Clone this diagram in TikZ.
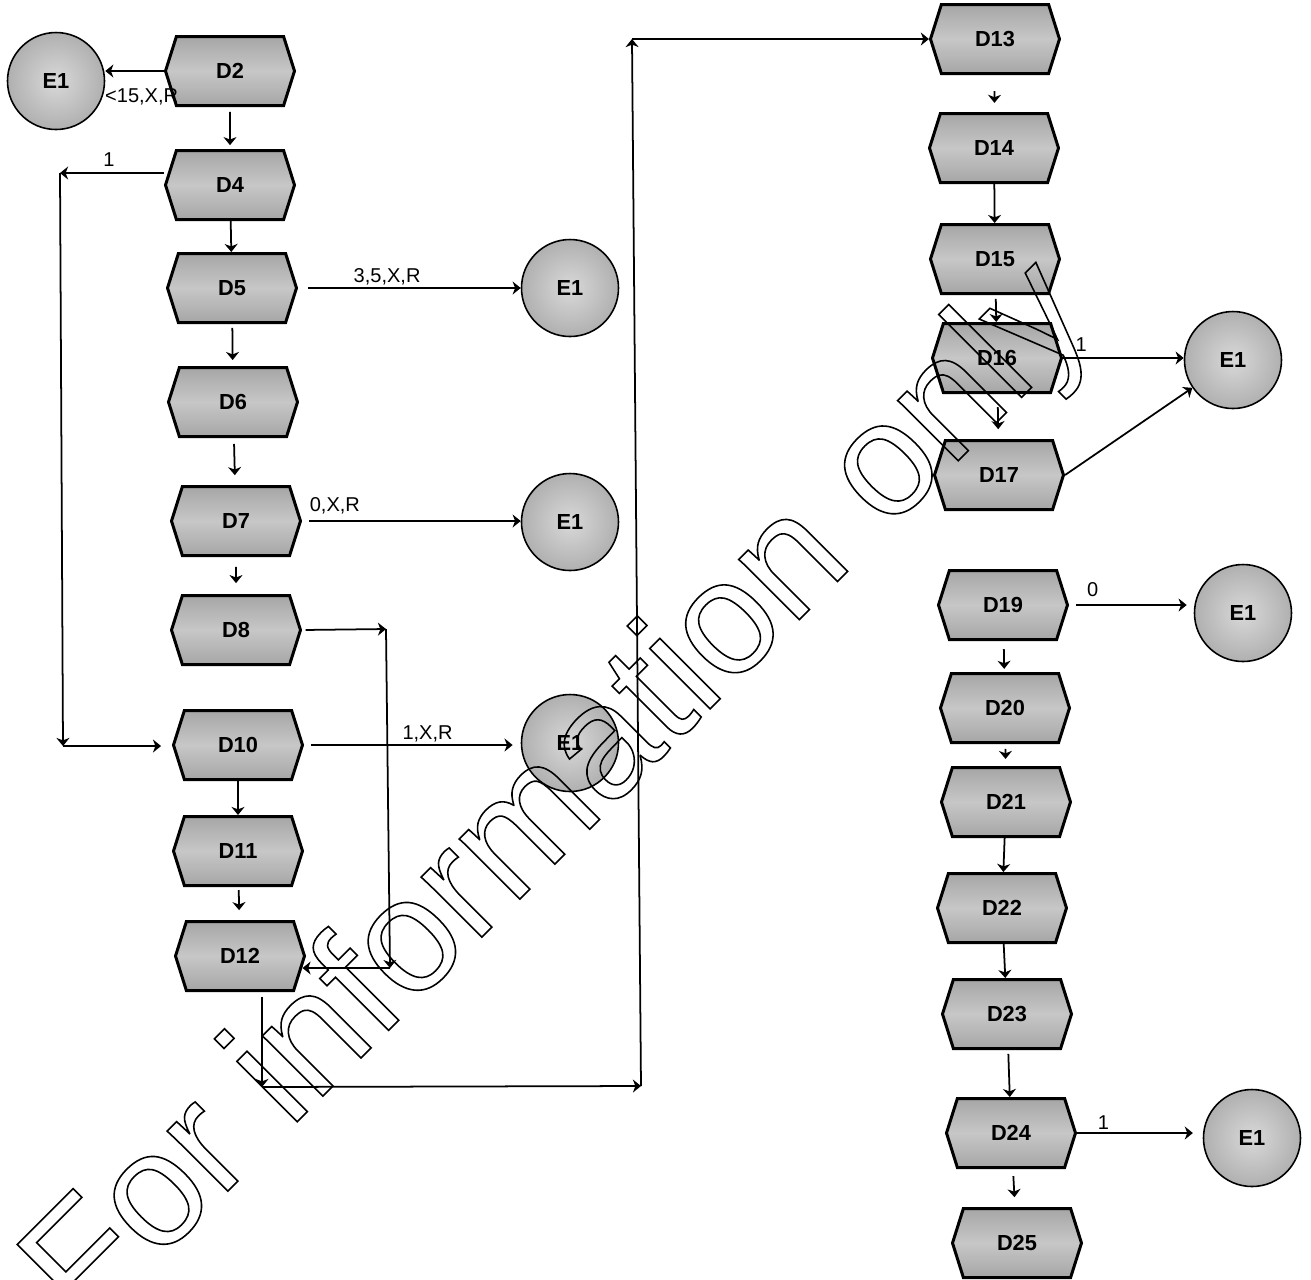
\documentclass[tikz,border=0pt]{standalone}
\usepackage{fontspec}
\setmainfont{Liberation Sans}
\usetikzlibrary{shapes.symbols,arrows.meta}

\begin{document}
\begin{tikzpicture}[x=.1mm,y=.1mm,
   hexa/.style={signal,signal to=east and west,signal pointer angle=145,draw,line width=.85pt,
     top color=gray!70,bottom color=gray!70,middle color=gray!44,
     minimum width=12.9mm,minimum height=6.9mm,inner sep=0pt,font=\fontsize{6.2}{7}\selectfont\bfseries},
   endc/.style={circle,draw,line width=.45pt,inner color=gray!30,outer color=gray!62,
     minimum size=9.7mm,inner sep=0pt,font=\fontsize{6.2}{7}\selectfont\bfseries},
   flow/.style={-{Stealth[length=2.3pt,width=3.7pt,inset=.7pt]},line width=.5pt},
   lab/.style={inner sep=.5pt,font=\fontsize{5.7}{6.5}\selectfont}]
\useasboundingbox (0,0) rectangle (1311,-1279);
       \node [endc] at (56,-81) (e1a) {E1};
          \node [hexa] at (230,-71) (d2) {D2};
             \node [hexa] at (230,-185) (d4) {D4};
              \node [hexa] at (232,-288) (d5) {D5};
               \node [endc] at (570,-288) (e1b) {E1};
                \node [hexa] at (233,-402) (d6) {D6};
                 \node [hexa] at (236,-521) (d7) {D7};
                  \node [endc] at (570,-522) (e1c) {E1};
                   \node [hexa] at (236,-630) (d8) {D8};
                    \node [hexa] at (238,-745) (d10) {D10};
                     \node [endc] at (570,-743) (e1d) {E1};
                      \node [hexa] at (238,-851) (d11) {D11};
                       \node [hexa] at (240,-956) (d12) {D12};
%
             \node [hexa] at (995,-39) (d13) {D13};
              \node [hexa] at (994,-148) (d14) {D14};
               \node [hexa] at (995,-259) (d15) {D15};
                \node [hexa] at (997,-358) (d16) {D16};
                 \node [endc] at (1233,-360) (e1e) {E1};
                  \node [hexa] at (999,-475) (d17) {D17};
                   \node [hexa] at (1003,-605) (d19) {D19};
                    \node [endc] at (1243,-613) (e1f) {E1};
                     \node [hexa] at (1005,-708) (d20) {D20};
                      \node [hexa] at (1006,-802) (d21) {D21};
                       \node [hexa] at (1002,-908) (d22) {D22};
                        \node [hexa] at (1007,-1014) (d23) {D23};
                         \node [hexa] at (1011,-1133) (d24) {D24};
                          \node [endc] at (1252,-1138) (e1g) {E1};
                           \node [hexa] at (1017,-1243) (d25) {D25};
%
\coordinate (c4) at (60,-173);
\coordinate (c10) at (63,-746);
\coordinate (c8a) at (386,-629);
\coordinate (c8b) at (390,-968);
\coordinate (c12) at (262,-1087);
\coordinate (c13b) at (641,-1086);
\coordinate (c13a) at (632,-39);
%
\path[flow] (d2.west) edge node [lab,pos=.38,below=4.3pt] {<15,X,R} (d2.west -| e1a.east);
\path[flow] (d2) edge[shorten <=1.4pt,shorten >=1.1pt] (d4);
\path[flow] (d4.west |- c4) edge node [lab,pos=.53,above=1.2pt] {1} (c4);
\path[flow] (c4) edge (c10);
\path[flow] (c10) edge[shorten >=3.1pt] (c10 -| d10.west);
\path[flow] (d4) edge (d5);
\path[flow] (d5.east) edge[shorten <=2.8pt] node [lab,pos=.4,above=0pt] {3,5,X,R} (d5.east -| e1b.west);
\path[flow] (d5) edge[shorten <=1.1pt,shorten >=1.7pt] (d6);
\path[flow] (d6) edge[shorten <=1.7pt,shorten >=2.8pt] (d7);
\path[flow] (d7.east) edge[shorten <=2pt] node [lab,pos=.15,above=1.3pt] {0,X,R} (d7.east -| e1c.west);
\path[flow] (d7) edge[shorten <=2.8pt,shorten >=3.1pt] (d8);
\path[flow] (d8.east) edge[shorten <=1pt] (c8a);
\path[flow] (c8a) edge (c8b);
\path[flow] (c8b) edge[shorten >=-1pt] (c8b -| d12.east);
\path[flow] (d10.east) edge[shorten <=2pt,shorten >=2.3pt] node [lab,pos=.57,above=0pt] {1,X,R} (d10.east -| e1d.west);
\path[flow] (d10) edge (d11);
\path[flow] (d11) edge[shorten <=.9pt,shorten >=2.8pt] (d12);
\path[flow] (c12 |- d12.south) edge[shorten <=1.3pt] (c12);
\path[flow] (c12) edge (c13b);
\path[flow] (c13b) edge (c13a);
\path[flow] (c13a) edge (c13a -| d13.west);
%
\path[flow] (d13) edge[shorten <=4.6pt,shorten >=2.6pt] (d14);
\path[flow] (d14) edge (d15);
\path[flow] (d15) edge[shorten <=1.1pt] (d16);
\path[flow] (d16.east) edge node [lab,pos=.15,above=1pt] {1} (d16.east -| e1e.west);
\path[flow] (d16) edge[shorten <=3.7pt,shorten >=2.8pt] (d17);
\path[flow] (d17.east) edge (e1e);
\path[flow] (d19.east) edge[shorten <=2pt,shorten >=2pt] node [lab,pos=.19,above=1.5pt] {0} (d19.east -| e1f.west);
\path[flow] (d19) edge[shorten <=2.3pt,shorten >=.9pt] (d20);
\path[flow] (d20) edge[shorten <=1.4pt,shorten >=2pt] (d21);
\path[flow] (d21) edge (d22);
\path[flow] (d22) edge (d23);
\path[flow] (d23) edge[shorten <=1.1pt] (d24);
\path[flow] (d24.east) edge[shorten >=2.8pt] node [lab,pos=.21,above=.3pt] {1} (d24.east -| e1g.west);
\path[flow] (d24) edge[shorten <=2pt,shorten >=2.8pt] (d25);
%
\node [rotate=45,anchor=base west,inner sep=0pt,font=\fontsize{46}{46}\selectfont] at (86,-1333) (wm)
   {\special{pdf:literal direct 1 Tr 0.45 w}For information only\special{pdf:literal direct 0 Tr}};
\end{tikzpicture}
\end{document}
